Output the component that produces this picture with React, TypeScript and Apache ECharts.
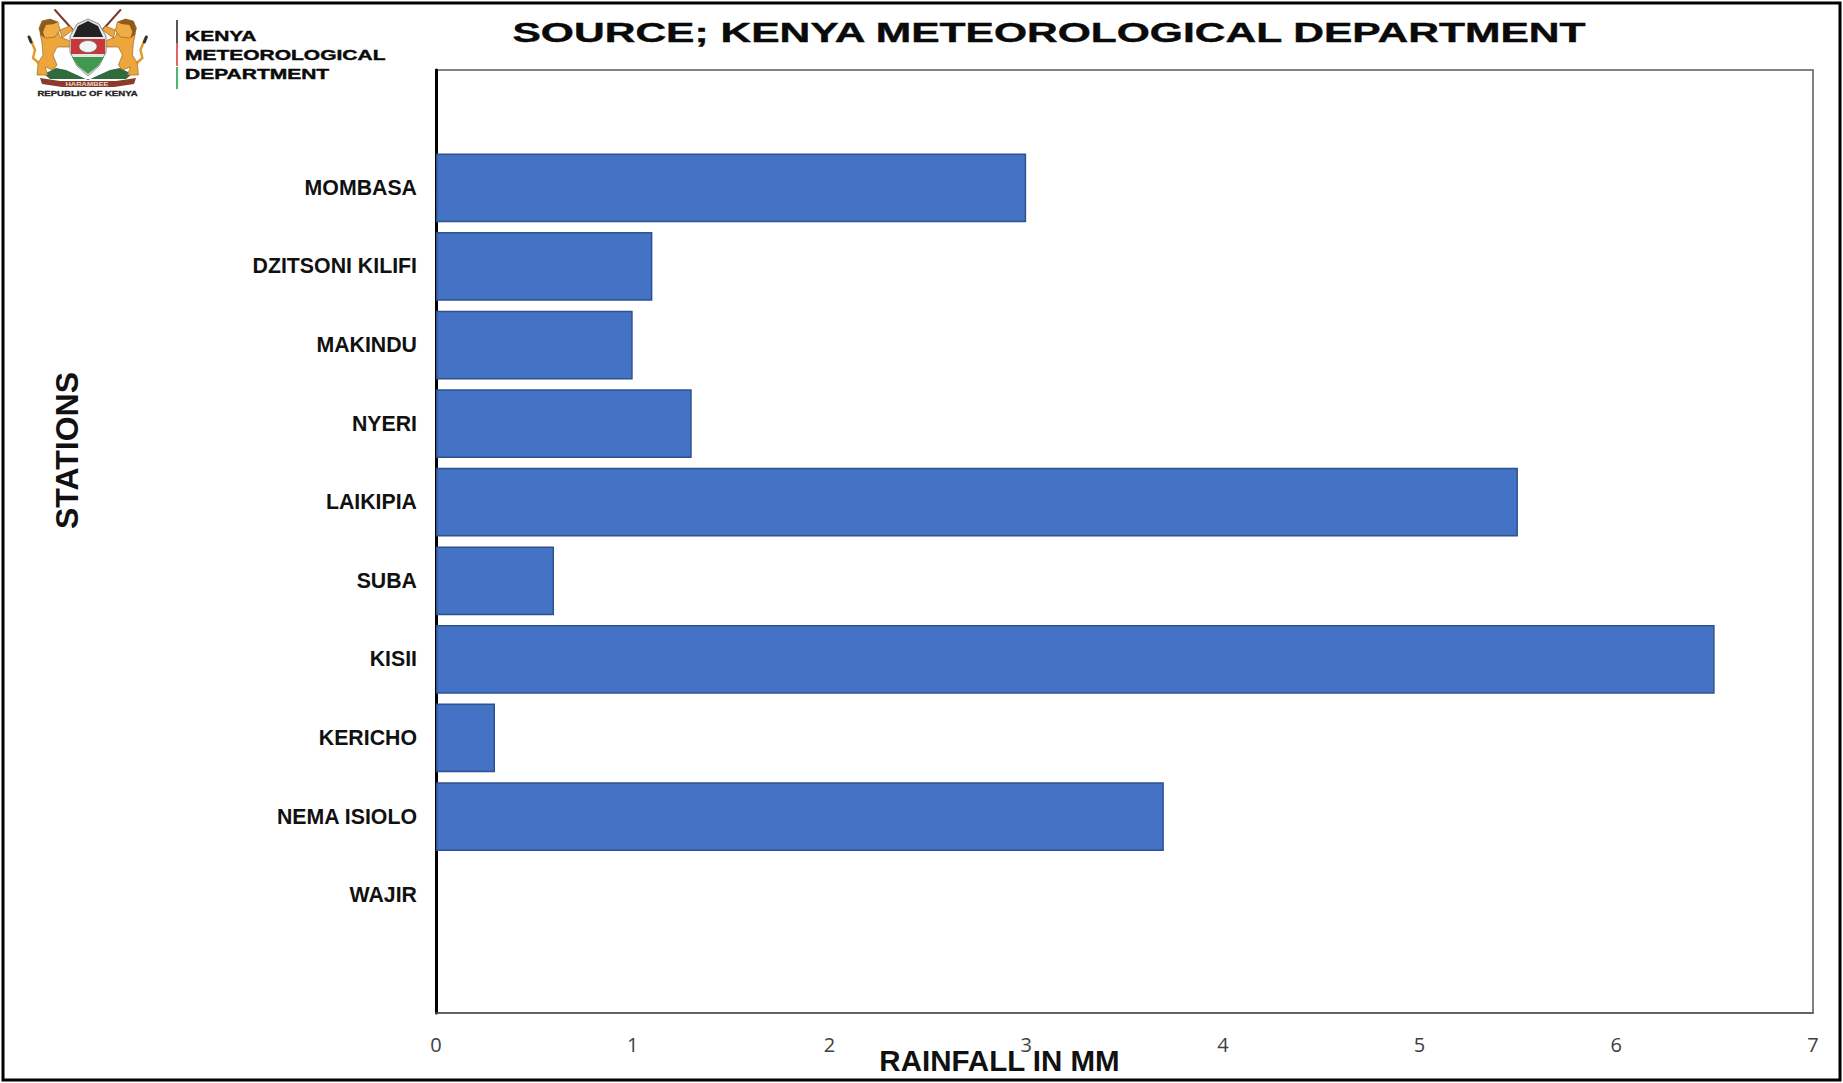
import React, { useEffect, useRef } from "react";
import * as echarts from "echarts";

const categories = ["", "MOMBASA", "DZITSONI KILIFI", "MAKINDU", "NYERI", "LAIKIPIA", "SUBA", "KISII", "KERICHO", "NEMA ISIOLO", "WAJIR", ""];
const rainfall = [null, 3.0, 1.1, 1.0, 1.3, 5.5, 0.6, 6.5, 0.3, 3.7, 0, null];
const titleText = "SOURCE; KENYA METEOROLOGICAL DEPARTMENT";
const xName = "RAINFALL IN MM";
const yName = "STATIONS";
const orgLines = ["KENYA", "METEOROLOGICAL", "DEPARTMENT"];

const poly = (points: number[][], fill: string, stroke?: string, lineWidth = 1) => ({
  type: "polygon",
  shape: { points },
  style: { fill, stroke: stroke || "none", lineWidth },
  silent: true,
});
const line = (points: number[][], stroke: string, lineWidth: number) => ({
  type: "polyline",
  shape: { points },
  style: { fill: "none", stroke, lineWidth, lineJoin: "round", lineCap: "round" },
  silent: true,
});

const mirror = (points: number[][]) => points.map(([x, y]) => [175.4 - x, y]);

const lionBody = [[40,33],[57,28],[60,37],[73,42],[75,47],[57,47],[53,55],[57,65],[53,70],[45,67],[48,75],[37,75],[38,63],[43,55],[42,43]];
const lionArm = [[60,30],[70,26],[73,30],[62,38]];
const lionHead = [[39,28],[42,21],[50,19],[58,22],[60,30],[55,37],[46,38],[41,35]];
const lionMane = [[39,29],[42,21],[50,19],[58,22],[54,24],[46,25],[43,32],[45,38],[41,35]];
const lionTail = [[30,38],[35,50],[33,58],[42,66]];
const spear = [[55,10],[72,29]];
const foliage = [[44,74],[56,68],[66,70],[88,80],[110,70],[120,68],[132,74],[126,79],[50,79]];
const ribbon = [[40,78],[60,81],[116,81],[136,78],[134,84],[114,87],[62,87],[42,84]];
const shieldOuter = [[88,19],[99,24],[106,36],[106,52],[99,66],[88,76],[77,66],[70,52],[70,36],[77,24]];
const shieldBlack = [[88,21],[98,26],[103,37],[73,37],[78,26]];
const shieldRed = [[71,39],[105,39],[105,54],[71,54]];
const shieldGreen = [[72,57],[104,57],[98,66],[88,74],[78,66]];

const logoGraphics = () => [
  line(spear, "#7a3a2a", 2),
  line(mirror(spear), "#7a3a2a", 2),
  line(lionTail, "#e29a30", 2.5),
  line(mirror(lionTail), "#e29a30", 2.5),
  line([[29,37],[31,42]], "#333333", 3),
  line(mirror([[29,37],[31,42]]), "#333333", 3),
  poly(foliage, "#2f6b3c"),
  poly(lionBody, "#eda63c", "#8a5a1a", 0.6),
  poly(mirror(lionBody), "#eda63c", "#8a5a1a", 0.6),
  poly(lionArm, "#eda63c", "#8a5a1a", 0.6),
  poly(mirror(lionArm), "#eda63c", "#8a5a1a", 0.6),
  poly(lionHead, "#f0ad45", "#8a5a1a", 0.6),
  poly(mirror(lionHead), "#f0ad45", "#8a5a1a", 0.6),
  poly(lionMane, "#8f5a1e"),
  poly(mirror(lionMane), "#8f5a1e"),
  poly(ribbon, "#8c3a2c"),
  poly(shieldOuter, "#e6e6e6", "#8a8a8a", 1),
  poly(shieldBlack, "#222222"),
  poly(shieldRed, "#c8373a"),
  poly(shieldGreen, "#3f9a50"),
  { type: "ellipse", shape: { cx: 88, cy: 46.5, rx: 9, ry: 6 }, style: { fill: "#f4f4f4", stroke: "#666", lineWidth: 0.8 }, silent: true },
  { type: "text", x: 87, y: 84, silent: true, scaleX: 1.5, style: { text: "HARAMBEE", fill: "#e8d8c8", font: "bold 5px 'Liberation Sans'", align: "center", verticalAlign: "middle" } },
  { type: "text", x: 87.5, y: 93.5, silent: true, scaleX: 1.37, style: { text: "REPUBLIC OF KENYA", fill: "#222", stroke: "#222", lineWidth: 0.3, font: "bold 7px 'Liberation Sans'", align: "center", verticalAlign: "middle" } },
  { type: "rect", shape: { x: 176, y: 20, width: 2, height: 23 }, style: { fill: "#555555" }, silent: true },
  { type: "rect", shape: { x: 176, y: 43, width: 2, height: 23 }, style: { fill: "#e06666" }, silent: true },
  { type: "rect", shape: { x: 176, y: 67, width: 2, height: 22 }, style: { fill: "#4cb86f" }, silent: true },
  ...orgLines.map((text, i) => ({
    type: "text", x: 185, y: 36 + i * 19, scaleX: 1.5, silent: true,
    style: { text, fill: "#0a0a0a", stroke: "#0a0a0a", lineWidth: 0.4, font: "bold 14px 'Liberation Sans'", align: "left", verticalAlign: "middle" },
  })),
];

export default function App() {
  const ref = useRef<HTMLDivElement>(null);
  useEffect(() => {
    document.body.style.margin = "0";
    const chart = echarts.init(ref.current!, undefined, { renderer: "svg" });
    chart.setOption({
      animation: false,
      backgroundColor: "#ffffff",
      grid: { left: 436, right: 30, top: 70, bottom: 70, show: true, borderColor: "#595959", borderWidth: 1.5, containLabel: false, outerBoundsMode: "none" },
      xAxis: {
        type: "value", position: "bottom", min: 0, max: 7, interval: 1,
        name: xName, nameLocation: "middle", nameGap: 32, nameMoveOverlap: false,
        nameTextStyle: { fontFamily: "Liberation Sans", fontWeight: "bold", fontSize: 29.5, color: "#111", padding: [0, 250, 0, 0] },
        axisLine: { show: true, lineStyle: { color: "#595959", width: 1.5 } },
        axisTick: { show: false }, splitLine: { show: false },
        axisLabel: { fontFamily: "Open Sans", fontSize: 20, color: "#404040", margin: 21 },
      },
      yAxis: {
        type: "category", inverse: true, data: categories,
        name: yName, nameLocation: "middle", nameGap: 353, nameRotate: 90, nameMoveOverlap: false,
        nameTextStyle: { fontFamily: "Liberation Sans", fontWeight: "bold", fontSize: 32, color: "#111", padding: [0, 0, 0, 182] },
        axisLine: { show: true, lineStyle: { color: "#000000", width: 3 } },
        axisTick: { show: false },
        axisLabel: { fontFamily: "Liberation Sans", fontWeight: "bold", fontSize: 21.3, color: "#111", margin: 19, interval: 0 },
      },
      series: [{
        type: "bar", barCategoryGap: "12.5%",
        data: rainfall.map((v) => (v === 0 ? { value: v, itemStyle: { borderWidth: 0 } } : v)),
        itemStyle: { color: "#4472c4", borderColor: "#2f528f", borderWidth: 1.5 },
      }],
      graphic: [
        { type: "rect", z: -1, silent: true, shape: { x: 3, y: 3, width: 1837, height: 1077 }, style: { fill: "none", stroke: "#000", lineWidth: 3 } },
        { type: "text", x: 1049, y: 33, scaleX: 1.576, silent: true,
          style: { text: titleText, fill: "#0a0a0a", stroke: "#0a0a0a", lineWidth: 0.4, font: "bold 27px 'Liberation Sans'", align: "center", verticalAlign: "middle" } },
        ...logoGraphics(),
      ],
    });
    return () => chart.dispose();
  }, []);
  return <div ref={ref} style={{ position: "absolute", left: 0, top: 0, width: 1843, height: 1083 }} />;
}
